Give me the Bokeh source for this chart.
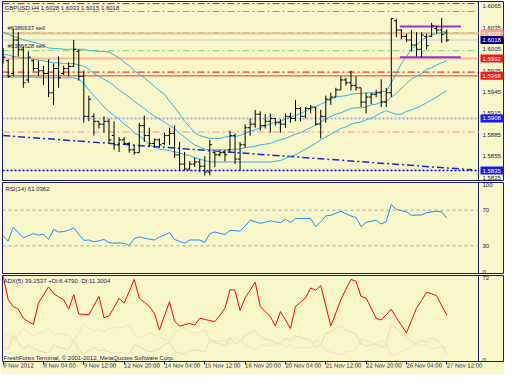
from bokeh.plotting import figure
from bokeh.models import Range1d, FixedTicker, Label, Span
from bokeh.core.properties import value
from bokeh.layouts import column
from bokeh.embed import file_html
from bokeh.resources import INLINE

# ---------------- data ----------------
bar_index = list(range(89))
opens = [1.6002,1.5989,1.5971,1.6018,1.6005,1.5962,1.5989,1.5978,1.5975,1.5971,
         1.5944,1.5978,1.5971,1.5978,1.5981,1.6002,1.5967,1.5911,1.5911,1.5904,
         1.5900,1.5904,1.5884,1.5871,1.5878,1.5873,1.5864,1.5860,1.5898,1.5884,
         1.5873,1.5878,1.5873,1.5884,1.5887,1.5857,1.5844,1.5837,1.5844,1.5847,
         1.5841,1.5833,1.5860,1.5857,1.5860,1.5864,1.5884,1.5851,1.5871,1.5895,
         1.5900,1.5914,1.5898,1.5904,1.5908,1.5902,1.5900,1.5911,1.5908,1.5922,
         1.5911,1.5922,1.5924,1.5900,1.5911,1.5935,1.5938,1.5948,1.5962,1.5958,
         1.5954,1.5951,1.5931,1.5938,1.5942,1.5944,1.5931,1.5944,1.6045,1.6032,
         1.6023,1.6018,1.6011,1.6005,1.6023,1.6023,1.6034,1.6032,1.6028]
highs = [1.6007,1.5991,1.6034,1.6029,1.6009,1.6002,1.5991,1.5989,1.5982,1.5991,
         1.5985,1.5995,1.5982,1.5987,1.6018,1.6005,1.5975,1.5940,1.5915,1.5904,
         1.5911,1.5908,1.5904,1.5882,1.5882,1.5875,1.5871,1.5902,1.5912,1.5895,
         1.5880,1.5880,1.5888,1.5895,1.5898,1.5875,1.5861,1.5848,1.5853,1.5851,
         1.5855,1.5878,1.5861,1.5864,1.5864,1.5891,1.5887,1.5875,1.5900,1.5908,
         1.5920,1.5918,1.5914,1.5915,1.5908,1.5907,1.5915,1.5916,1.5934,1.5924,
         1.5924,1.5927,1.5924,1.5920,1.5940,1.5944,1.5951,1.5967,1.5965,1.5975,
         1.5967,1.5951,1.5944,1.5944,1.5948,1.5963,1.5951,1.6049,1.6048,1.6033,
         1.6027,1.6032,1.6029,1.6029,1.6027,1.6042,1.6038,1.6049,1.6033]
lows = [1.5985,1.5965,1.5967,1.5995,1.5951,1.5958,1.5974,1.5967,1.5955,1.5938,
        1.5927,1.5951,1.5969,1.5967,1.5981,1.5961,1.5902,1.5904,1.5884,1.5894,
        1.5888,1.5873,1.5864,1.5861,1.5871,1.5860,1.5857,1.5860,1.5875,1.5868,
        1.5867,1.5867,1.5871,1.5871,1.5853,1.5835,1.5835,1.5835,1.5840,1.5833,
        1.5828,1.5828,1.5840,1.5855,1.5848,1.5861,1.5844,1.5835,1.5867,1.5884,
        1.5895,1.5891,1.5894,1.5888,1.5898,1.5888,1.5895,1.5902,1.5904,1.5904,
        1.5908,1.5915,1.5898,1.5880,1.5902,1.5927,1.5938,1.5948,1.5954,1.5947,
        1.5947,1.5924,1.5915,1.5928,1.5938,1.5924,1.5924,1.5938,1.6022,1.6019,
        1.6015,1.6002,1.5995,1.5994,1.6005,1.6022,1.6027,1.6014,1.6015]
closes = [1.5994,1.5967,1.6018,1.6005,1.5958,1.5994,1.5978,1.5975,1.5971,1.5944,
          1.5978,1.5965,1.5978,1.5981,1.6005,1.5967,1.5911,1.5935,1.5904,1.5900,
          1.5904,1.5878,1.5871,1.5878,1.5873,1.5864,1.5860,1.5898,1.5884,1.5873,
          1.5878,1.5871,1.5884,1.5887,1.5857,1.5844,1.5837,1.5844,1.5847,1.5841,
          1.5833,1.5871,1.5857,1.5860,1.5857,1.5884,1.5851,1.5871,1.5895,1.5900,
          1.5914,1.5898,1.5904,1.5908,1.5902,1.5900,1.5911,1.5908,1.5922,1.5911,
          1.5922,1.5924,1.5900,1.5911,1.5935,1.5938,1.5948,1.5962,1.5958,1.5954,
          1.5951,1.5931,1.5938,1.5942,1.5944,1.5931,1.5944,1.6048,1.6032,1.6023,
          1.6018,1.6011,1.6005,1.6025,1.6010,1.6038,1.6032,1.6026,1.6018]
band_upper = [1.6029,1.6026,1.6023,1.6021,1.6018,1.6017,1.6015,1.6013,1.6010,1.6007,
              1.6006,1.6006,1.6005,1.6005,1.6005,1.6005,1.6005,1.6003,1.6003,1.6002,
              1.6002,1.6001,1.5997,1.5993,1.5987,1.5982,1.5975,1.5970,1.5965,1.5959,
              1.5953,1.5947,1.5942,1.5932,1.5924,1.5914,1.5904,1.5896,1.5888,1.5884,
              1.5882,1.5880,1.5880,1.5880,1.5882,1.5883,1.5883,1.5884,1.5887,1.5890,
              1.5892,1.5895,1.5898,1.5900,1.5903,1.5904,1.5907,1.5910,1.5912,1.5915,
              1.5918,1.5922,1.5924,1.5928,1.5931,1.5935,1.5938,1.5939,1.5940,1.5942,
              1.5943,1.5943,1.5944,1.5944,1.5944,1.5946,1.5946,1.5958,1.5971,1.5985,
              1.5995,1.6005,1.6011,1.6017,1.6022,1.6025,1.6027,1.6029,1.6030]
band_middle = [1.5998,1.5997,1.5995,1.5994,1.5993,1.5993,1.5991,1.5990,1.5989,1.5987,
               1.5986,1.5986,1.5985,1.5985,1.5985,1.5983,1.5981,1.5977,1.5971,1.5967,
               1.5963,1.5959,1.5954,1.5948,1.5943,1.5938,1.5932,1.5927,1.5922,1.5916,
               1.5911,1.5907,1.5903,1.5898,1.5894,1.5887,1.5882,1.5876,1.5871,1.5868,
               1.5865,1.5864,1.5864,1.5864,1.5864,1.5864,1.5865,1.5865,1.5867,1.5868,
               1.5869,1.5871,1.5872,1.5873,1.5876,1.5878,1.5880,1.5883,1.5886,1.5888,
               1.5892,1.5895,1.5899,1.5903,1.5907,1.5911,1.5914,1.5916,1.5919,1.5922,
               1.5923,1.5923,1.5924,1.5927,1.5928,1.5931,1.5932,1.5938,1.5943,1.5950,
               1.5957,1.5963,1.5967,1.5971,1.5977,1.5979,1.5983,1.5986,1.5989]
band_lower = [1.5966,1.5966,1.5966,1.5966,1.5966,1.5966,1.5966,1.5965,1.5965,1.5965,
              1.5965,1.5965,1.5965,1.5965,1.5965,1.5963,1.5957,1.5948,1.5940,1.5932,
              1.5924,1.5918,1.5912,1.5907,1.5900,1.5895,1.5888,1.5884,1.5878,1.5871,
              1.5868,1.5865,1.5864,1.5863,1.5861,1.5860,1.5857,1.5856,1.5853,1.5851,
              1.5849,1.5847,1.5847,1.5847,1.5847,1.5847,1.5847,1.5847,1.5847,1.5847,
              1.5847,1.5847,1.5847,1.5847,1.5848,1.5849,1.5852,1.5855,1.5857,1.5861,
              1.5865,1.5869,1.5873,1.5878,1.5882,1.5886,1.5890,1.5894,1.5896,1.5900,
              1.5902,1.5903,1.5906,1.5908,1.5912,1.5916,1.5919,1.5916,1.5914,1.5914,
              1.5918,1.5920,1.5923,1.5926,1.5930,1.5934,1.5938,1.5943,1.5947]
rsi_values = [41.1,35.4,50.9,45.0,39.0,41.5,43.7,41.9,43.0,37.2,
              48.4,45.5,46.0,47.5,50.2,43.0,36.2,36.5,34.7,35.5,
              37.2,33.6,33.0,33.2,32.9,30.4,38.0,40.1,38.5,37.5,
              36.5,40.0,42.0,44.8,37.2,35.0,32.9,36.5,36.6,36.5,
              33.6,43.7,45.5,44.0,42.6,47.3,47.0,46.5,52.0,58.8,
              57.0,55.2,56.5,58.1,57.0,56.0,59.9,56.3,60.6,60.6,
              60.6,60.6,51.6,57.0,63.5,64.2,66.5,68.9,66.0,63.5,
              61.7,51.6,56.3,57.5,58.8,54.5,57.0,76.2,70.8,69.5,
              68.2,64.2,64.4,64.6,67.1,68.0,68.9,68.0,61.0362]
adx_values = [72.0,52.1,46.4,44.1,36.4,33.5,31.3,49.2,56.0,62.9,
              57.2,54.5,52.1,44.1,56.4,40.1,39.7,39.3,47.0,54.9,
              37.0,38.4,45.5,53.2,49.2,59.0,69.2,53.5,50.0,46.4,
              40.7,26.5,38.5,50.4,34.2,29.9,31.0,32.1,30.7,36.4,
              35.5,34.5,33.6,39.0,44.9,60.6,60.0,43.0,53.5,60.0,
              66.9,46.4,42.0,37.8,29.9,42.1,35.0,27.8,46.4,50.0,
              53.5,62.0,60.0,64.0,47.0,29.9,41.0,52.1,61.0,69.2,
              67.7,54.9,53.5,45.0,36.4,35.0,39.5,44.1,37.0,30.5,
              24.2,34.5,44.9,51.5,58.3,57.2,55.5,47.0,39.1537]
plus_di = [12,10,22,16,10,14,11,9,8,7,
           14,12,11,10,18,10,6,9,12,9,
           10,8,7,8,7,6,14,13,10,8,
           9,11,14,16,9,7,6,9,10,9,
           8,18,16,15,13,20,15,17,22,24,
           26,21,19,18,16,15,20,17,22,20,
           19,18,12,14,24,25,28,30,26,25,
           23,15,13,14,15,12,14,32,28,24,
           21,17,15,18,16,20,18,14,6.479]
minus_di = [20,24,18,22,28,24,22,24,25,28,
            22,24,23,22,17,24,32,28,26,27,
            25,28,29,28,29,31,22,20,22,24,
            23,21,19,17,24,27,28,25,24,25,
            27,18,17,17,18,14,20,18,14,12,
            10,13,14,13,15,15,12,14,11,12,
            12,11,18,16,9,8,7,6,8,9,
            11,19,18,16,15,18,16,5,6,8,
            10,13,15,13,14,11,11,13,11.3004]

level_prices = [1.6069, 1.6058, 1.6028, 1.6027, 1.6018, 1.6003, 1.5992, 1.5973, 1.5968, 1.5908, 1.5889, 1.5835]
trend_bars = [0, 93]
trend_prices = [1.5884, 1.5836]
channel_bars = [78.7, 90.8]
channel_levels = [1.6037, 1.5994]
order_texts = ["#6386637 sell", "#6386628 sell"]
order_prices = [1.6028, 1.6003]
box_prices = [1.6027, 1.6018, 1.5992, 1.5968, 1.5908, 1.5835]
box_texts = ["1.6027", "1.6018", "1.5992", "1.5968", "1.5908", "1.5835"]
price_ticks = [1.5825, 1.5855, 1.5885, 1.5915, 1.5945, 1.5975, 1.6005, 1.6035, 1.6065]
price_tick_labels = ["1.5825", "1.5855", "1.5885", "1.5915", "1.5945", "1.5975", "1.6005", "1.6035", "1.6065"]
rsi_mid_ticks = [70, 30]
rsi_mid_labels = ["70", "30"]
rsi_levels = [70, 30]
scale_max_labels = ["100", "72"]
scale_min_label = "0"
label_bars = [0, 8, 16, 24, 32, 40, 48, 56, 64, 72, 80, 88]
date_labels = ["6 Nov 2012", "8 Nov 04:00", "9 Nov 12:00", "12 Nov 20:00", "14 Nov 04:00",
               "15 Nov 12:00", "16 Nov 20:00", "20 Nov 04:00", "21 Nov 12:00", "22 Nov 20:00",
               "26 Nov 04:00", "27 Nov 12:00"]
header_text = "GBPUSD,H4  1.6028 1.6033 1.6015 1.6018"
rsi_text = "RSI(14) 61.0362"
adx_text = "ADX(5) 39.1537 +DI:6.4790 -DI:11.3004"
copyright_text = "FreshForex Terminal, \u00a9 2001-2012, MetaQuotes Software Corp."

# ---------------- styles ----------------
BG = "#F7F7C9"
FRAME = "#1C1C6E"
TXT = "#22225C"
FONT = "Liberation Sans"
FS = "6px"
DASHDOT = "7 3 2 3"
level_colors = ["#FF0000", "#F07070", "#32CD32", "#F9B99A", "#C3CDDF", "#8FD47A",
                "#F9B99A", "#FF0000", "#F07A5A", "#A8A8F0", "#F8C4B4", "#0000FF"]
level_dashes = [DASHDOT, DASHDOT, DASHDOT, "solid", "solid", DASHDOT,
                "solid", DASHDOT, "solid", "2 2", DASHDOT, "2 2"]
level_widths = [1, 1, 1, 2, 1, 1, 2, 1, 1.5, 2, 2, 1.5]
box_colors = ["#F4A98A", "#000080", "#F01818", "#F01818", "#1818F0", "#1818F0"]

W = 504
LEFT = 2
SCALE_W = 26
CHART = Range1d(-0.13, 94.3)                          # bar span up to the price-scale border
bpp = (CHART.end - CHART.start) / (W - LEFT - SCALE_W)  # bars per pixel
XR = Range1d(CHART.start, CHART.start + (W - LEFT) * bpp)  # frame also covers the scale strip


def make_fig(height, y_range, bottom_axis):
    f = figure(width=W, height=height, x_range=XR, y_range=y_range,
               output_backend="svg", toolbar_location=None,
               x_axis_location="below" if bottom_axis else None, y_axis_location=None,
               min_border_left=LEFT, min_border_right=0, min_border_top=1,
               min_border_bottom=0 if bottom_axis else 1,
               background_fill_color=BG, border_fill_color=BG,
               outline_line_color=FRAME, outline_line_width=1)
    f.grid.grid_line_color = None
    # border between chart and scale strip
    f.segment(x0=[CHART.end], y0=[y_range.start], x1=[CHART.end], y1=[y_range.end],
              line_color=FRAME, line_width=1)
    return f


def scale_text(f, ys, labels, baseline, color=TXT):
    f.text(x=[CHART.end] * len(ys), y=ys, text=labels, x_offset=4,
           text_baseline=baseline, text_align="left",
           text_font=value(FONT), text_font_size=value(FS), text_color=color)


def add_text(f, text, x, y, xo, yo, baseline, size=FS, color=TXT):
    f.add_layout(Label(x=x, y=y, x_offset=xo, y_offset=yo, text=text,
                       text_font=FONT, text_font_size=size, text_color=color,
                       text_baseline=baseline, text_align="left"))


# ---------------- main price panel ----------------
PY = Range1d(1.5821, 1.6072)
p1 = make_fig(181, PY, False)

for lv, c, d, w in zip(level_prices, level_colors, level_dashes, level_widths):
    p1.segment(x0=[CHART.start], y0=[lv], x1=[CHART.end], y1=[lv], line_color=c,
               line_dash=d, line_width=w)

p1.line(trend_bars, trend_prices, line_color="#2424D8", line_dash=DASHDOT, line_width=1.5)

for band in (band_upper, band_middle, band_lower):
    p1.line(bar_index, band, line_color="#33B5EA", line_width=1)

p1.segment(x0=[channel_bars[0]] * 2, y0=channel_levels,
           x1=[channel_bars[1]] * 2, y1=channel_levels,
           line_color="#9B30D9", line_width=2)

p1.segment(x0=bar_index, y0=lows, x1=bar_index, y1=highs, line_color="black", line_width=1)
p1.segment(x0=[i - 0.45 for i in bar_index], y0=opens, x1=bar_index, y1=opens,
           line_color="black", line_width=1)
p1.segment(x0=bar_index, y0=closes, x1=[i + 0.45 for i in bar_index], y1=closes,
           line_color="black", line_width=1)

scale_text(p1, price_ticks, price_tick_labels, "middle")

box_cx = CHART.end + 13.5 * bpp
p1.rect(x=[box_cx] * len(box_prices), y=box_prices, width=23, height=8,
        width_units="screen", height_units="screen", fill_color=box_colors, line_color=None)
scale_text(p1, box_prices, box_texts, "middle", color="white")

add_text(p1, header_text, CHART.start, PY.end, 2, -3, "top")
for t, pr in zip(order_texts, order_prices):
    add_text(p1, t, CHART.start, pr, 5, 2, "bottom")

# ---------------- RSI panel ----------------
RY = Range1d(-1, 101)
p2 = make_fig(93, RY, False)
for lv in rsi_levels:
    p2.segment(x0=[CHART.start], y0=[lv], x1=[CHART.end], y1=[lv], line_color="#A9A9A0",
               line_dash="3 3", line_width=1)
p2.line(bar_index, rsi_values, line_color="#1E90FF", line_width=1)
scale_text(p2, rsi_mid_ticks, rsi_mid_labels, "middle")
scale_text(p2, [RY.end], [scale_max_labels[0]], "top")
scale_text(p2, [RY.start], [scale_min_label], "bottom")
add_text(p2, rsi_text, CHART.start, RY.end, 3, -3, "top")

# ---------------- ADX panel ----------------
AY = Range1d(0, 72.5)
p3 = make_fig(100, AY, True)
p3.line(bar_index, plus_di, line_color="#F0D6B8", line_width=1)
p3.line(bar_index, minus_di, line_color="#F3DFC8", line_width=1)
p3.line(bar_index, adx_values, line_color="#FF0000", line_width=1)
scale_text(p3, [AY.end], [scale_max_labels[1]], "top")
scale_text(p3, [AY.start], [scale_min_label], "bottom")
add_text(p3, adx_text, CHART.start, AY.end, 1, -2, "top")
add_text(p3, copyright_text, CHART.start, AY.start, 1, 1, "bottom")

xa = p3.xaxis
xa.ticker = FixedTicker(ticks=label_bars)
xa.major_label_overrides = {b: lab for b, lab in zip(label_bars, date_labels)}
xa.axis_line_color = None
xa.major_tick_line_color = FRAME
xa.major_tick_out = 3
xa.major_tick_in = 0
xa.minor_tick_line_color = None
xa.major_label_text_font = FONT
xa.major_label_text_font_size = FS
xa.major_label_text_color = TXT
xa.major_label_standoff = 1
xa.major_label_orientation = -0.001

layout = column(p1, p2, p3, spacing=0)
open("out.html", "w").write(file_html(layout, INLINE))
